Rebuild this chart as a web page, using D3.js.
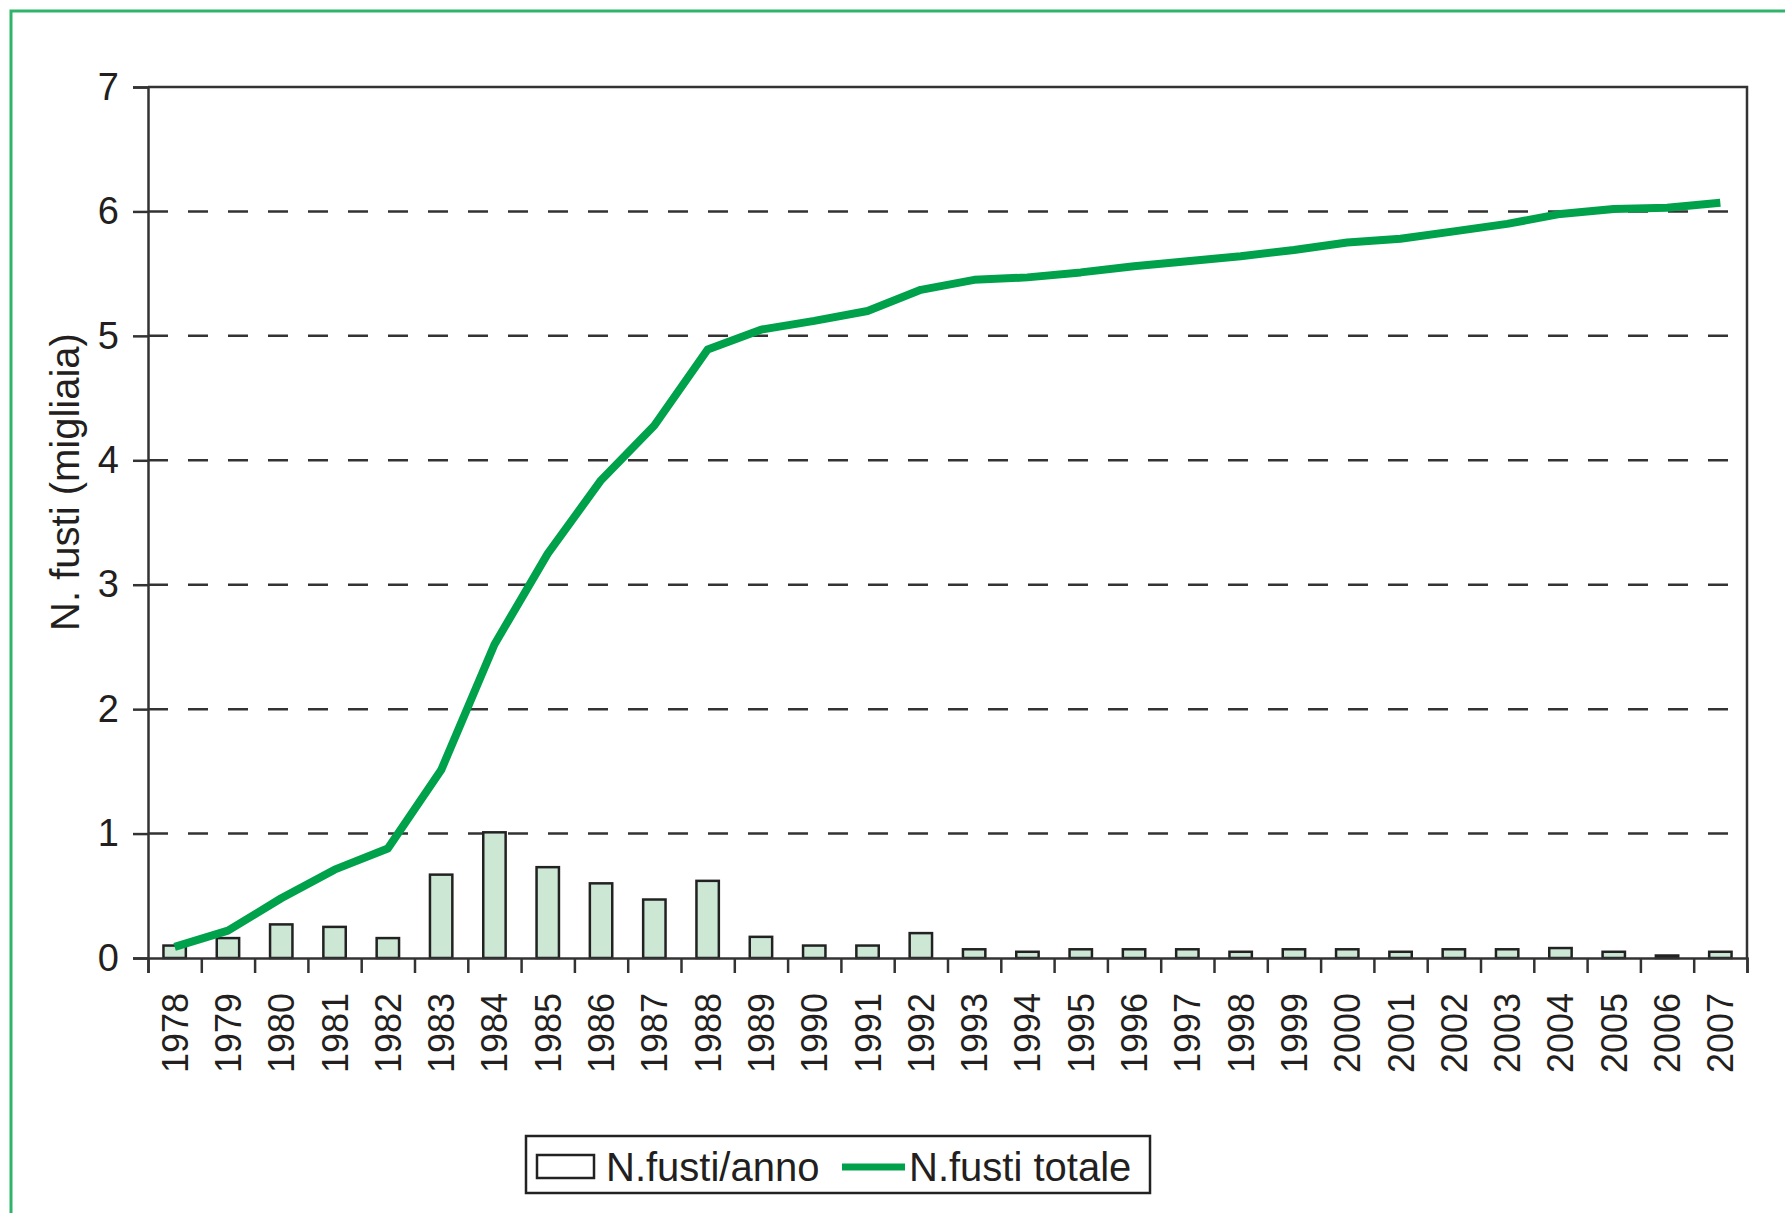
<!DOCTYPE html>
<html>
<head>
<meta charset="utf-8">
<script src="https://cdn.jsdelivr.net/npm/d3@7"></script>
<style>
  body { margin: 0; background: #fff; }
  svg text { font-family: "Liberation Sans", Arial, sans-serif; fill: #231f20; }
</style>
</head>
<body>
<svg id="chart" width="1785" height="1213"></svg>
<script>
// data (thousands of stems)
var years = ["1978","1979","1980","1981","1982","1983","1984","1985","1986","1987",
             "1988","1989","1990","1991","1992","1993","1994","1995","1996","1997",
             "1998","1999","2000","2001","2002","2003","2004","2005","2006","2007"];
var perYear = [0.10,0.16,0.27,0.25,0.16,0.67,1.01,0.73,0.60,0.47,
               0.62,0.17,0.10,0.10,0.20,0.07,0.05,0.07,0.07,0.07,
               0.05,0.07,0.07,0.05,0.07,0.07,0.08,0.05,0.02,0.05];
var total = [0.09,0.22,0.48,0.71,0.88,1.51,2.52,3.25,3.84,4.28,
             4.89,5.05,5.12,5.20,5.37,5.45,5.47,5.51,5.56,5.60,
             5.64,5.69,5.75,5.78,5.84,5.90,5.98,6.02,6.03,6.07];
var yTicks = [0,1,2,3,4,5,6,7];
var legendLabels = ["N.fusti/anno", "N.fusti totale"];

var green = "#00a14b";
var barFill = "#cce8d5";
var ink = "#231f20";

var svg = d3.select("#chart");

// outer green frame (cut off at right and bottom)
svg.append("rect").attr("x", 11).attr("y", 11).attr("width", 2000).attr("height", 2000)
   .attr("fill", "none").attr("stroke", "#2fb46a").attr("stroke-width", 3);

var plotL = 148, plotR = 1747, plotT = 87, plotB = 958;

var x = d3.scaleBand().domain(years).range([plotL, plotR]).padding(0);
var y = d3.scaleLinear().domain([0, 7]).range([plotB, plotT]);

var g = svg.append("g");

// dashed gridlines
g.selectAll(".grid").data(yTicks.filter(d => d > 0 && d < 7))
  .enter().append("line")
  .attr("x1", plotL).attr("x2", plotR)
  .attr("y1", d => y(d)).attr("y2", d => y(d))
  .attr("stroke", "#333").attr("stroke-width", 2.5)
  .attr("stroke-dasharray", "20,20");

// top and right border
g.append("path")
  .attr("d", "M" + plotL + "," + y(7) + "H" + plotR + "V" + plotB)
  .attr("fill", "none").attr("stroke", "#333").attr("stroke-width", 2.5);

// bars
var bw = x.bandwidth() * 0.42;
g.selectAll(".bar").data(perYear)
  .enter().append("rect")
  .attr("class", "bar")
  .attr("x", (d, i) => x(years[i]) + (x.bandwidth() - bw) / 2)
  .attr("y", d => y(d))
  .attr("width", bw)
  .attr("height", d => y(0) - y(d))
  .attr("fill", barFill)
  .attr("stroke", "#222").attr("stroke-width", 2.5);

// y axis
var yAxis = svg.append("g")
  .attr("transform", "translate(" + plotL + ",0)")
  .call(d3.axisLeft(y).tickValues(yTicks).tickSize(15).tickPadding(14).tickFormat(d3.format("d")));
yAxis.select(".domain").attr("stroke", "#333").attr("stroke-width", 2.5);
yAxis.selectAll(".tick line").attr("stroke", "#333").attr("stroke-width", 2.5);
yAxis.selectAll(".tick text").style("font-size", "38px").attr("fill", ink);

// x axis: ticks at band edges
var edges = d3.scaleLinear().domain([0, years.length]).range([plotL, plotR]);
var xTickAxis = svg.append("g")
  .attr("transform", "translate(0," + plotB + ")")
  .call(d3.axisBottom(edges).tickValues(d3.range(years.length + 1)).tickSize(15).tickFormat(""));
xTickAxis.select(".domain").attr("stroke", "#333").attr("stroke-width", 2.5);
xTickAxis.selectAll(".tick line").attr("stroke", "#333").attr("stroke-width", 2.5);

var xLab = svg.append("g")
  .attr("transform", "translate(0," + plotB + ")")
  .call(d3.axisBottom(x).tickSize(0).tickPadding(0));
xLab.select(".domain").remove();
xLab.selectAll(".tick text")
  .style("font-size", "36px").attr("fill", ink)
  .attr("text-anchor", "end")
  .attr("transform", "rotate(-90)")
  .attr("x", -35).attr("y", 0).attr("dy", "0.36em");

// cumulative line
var line = d3.line()
  .x((d, i) => x(years[i]) + x.bandwidth() / 2)
  .y(d => y(d));
g.append("path").datum(total)
  .attr("d", line)
  .attr("fill", "none")
  .attr("stroke", green).attr("stroke-width", 8)
  .attr("stroke-linejoin", "round");

// y axis title
svg.append("text")
  .attr("transform", "translate(79,482) rotate(-90)")
  .attr("text-anchor", "middle")
  .style("font-size", "40px")
  .text("N. fusti (migliaia)");

// legend
var lg = svg.append("g");
lg.append("rect").attr("x", 526).attr("y", 1136).attr("width", 624).attr("height", 57)
  .attr("fill", "#fff").attr("stroke", "#222").attr("stroke-width", 2.5);
lg.append("rect").attr("x", 537).attr("y", 1155).attr("width", 57).attr("height", 23)
  .attr("fill", "#fff").attr("stroke", "#222").attr("stroke-width", 2.5);
lg.append("text").attr("x", 606).attr("y", 1181).style("font-size", "40px").text(legendLabels[0]);
lg.append("line").attr("x1", 842).attr("x2", 905).attr("y1", 1167).attr("y2", 1167)
  .attr("stroke", green).attr("stroke-width", 7);
lg.append("text").attr("x", 909).attr("y", 1181).style("font-size", "40px").text(legendLabels[1]);
</script>
</body>
</html>
